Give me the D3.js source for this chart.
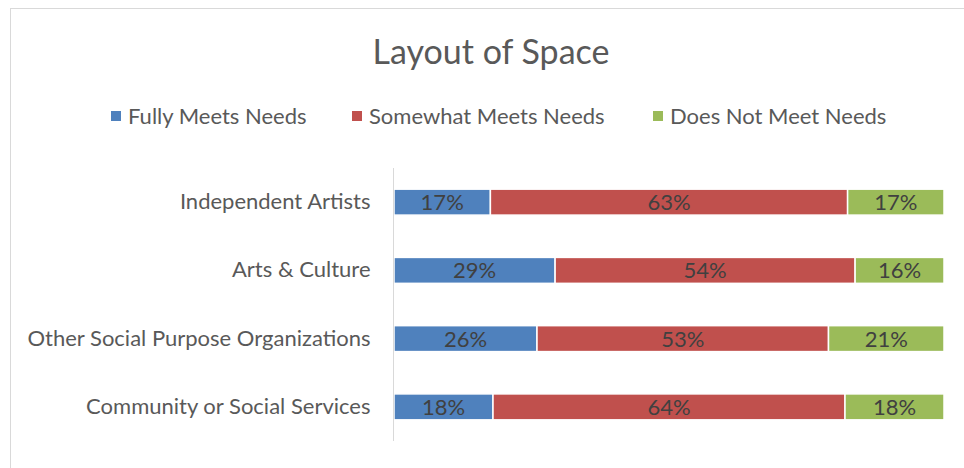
<!DOCTYPE html>
<html>
<head>
<meta charset="utf-8">
<script src="https://cdn.jsdelivr.net/npm/d3@7"></script>
<style>
  html, body { margin: 0; padding: 0; background: #fff; }
  svg { display: block; }
  text { font-family: Lato, "Open Sans", sans-serif; }
</style>
</head>
<body>
<svg id="chart" width="964" height="468"></svg>
<script>
// Survey responses: share of each group rating the layout of space
const categories = ["Independent Artists", "Arts & Culture", "Other Social Purpose Organizations", "Community or Social Services"];
const seriesNames = ["Fully Meets Needs", "Somewhat Meets Needs", "Does Not Meet Needs"];
const fullyMeets = [17, 29, 26, 18];
const somewhatMeets = [63, 54, 53, 64];
const doesNotMeet = [17, 16, 21, 18];
const seriesColors = ["#4F81BD", "#C0504D", "#9BBB59"];
const chartTitle = "Layout of Space";

const rows = categories.map((c, i) => ({
  category: c,
  "Fully Meets Needs": fullyMeets[i],
  "Somewhat Meets Needs": somewhatMeets[i],
  "Does Not Meet Needs": doesNotMeet[i]
}));

const svg = d3.select("#chart");
const W = 964, H = 468;

// chart frame
svg.append("rect")
  .attr("x", 10.5).attr("y", 8.5)
  .attr("width", W + 20).attr("height", H + 20)
  .attr("fill", "#fff").attr("stroke", "#d9d9d9").attr("stroke-width", 1);

// title
svg.append("text")
  .attr("x", 491).attr("y", 64)
  .attr("text-anchor", "middle")
  .attr("font-size", 34)
  .attr("fill", "#595959")
  .text(chartTitle);

// legend
const legendX = [111, 352, 653];
const legend = svg.append("g");
seriesNames.forEach((name, i) => {
  const g = legend.append("g").attr("transform", `translate(${legendX[i]},116)`);
  g.append("rect").attr("x", 0).attr("y", -5).attr("width", 10).attr("height", 10).attr("fill", seriesColors[i]);
  g.append("text").attr("x", 17).attr("y", 8).attr("font-size", 22).attr("fill", "#595959").text(name);
});

// scales
const x = d3.scaleLinear().domain([0, 1]).range([394, 944]);
const y = d3.scaleBand().domain(categories).range([168, 441]).paddingInner(0.62).paddingOuter(0.31);
const color = d3.scaleOrdinal().domain(seriesNames).range(seriesColors);

const stacked = d3.stack().keys(seriesNames).offset(d3.stackOffsetExpand)(rows);

// bars
const layers = svg.append("g").selectAll("g").data(stacked).join("g")
  .attr("fill", d => color(d.key));

layers.selectAll("rect").data(d => d).join("rect")
  .attr("x", d => x(d[0]))
  .attr("y", d => y(d.data.category))
  .attr("width", d => x(d[1]) - x(d[0]))
  .attr("height", y.bandwidth())
  .attr("stroke", "#fff").attr("stroke-width", 1.5);

// value labels
layers.each(function(layer) {
  d3.select(this).selectAll("text").data(layer).join("text")
    .attr("x", d => (x(d[0]) + x(d[1])) / 2)
    .attr("y", d => y(d.data.category) + y.bandwidth() / 2 + 8)
    .attr("text-anchor", "middle")
    .attr("font-size", 22)
    .attr("fill", "#404040")
    .text(d => d.data[layer.key] + "%");
});

// category axis
const yAxis = svg.append("g").attr("transform", "translate(393.5,0)")
  .call(d3.axisLeft(y).tickSize(0).tickPadding(23));
yAxis.select(".domain").attr("stroke", "#d9d9d9").attr("d", "M0,168V441");
yAxis.selectAll("text")
  .attr("font-size", 22)
  .attr("fill", "#595959")
  .attr("font-family", "Lato, 'Open Sans', sans-serif");
</script>
</body>
</html>
